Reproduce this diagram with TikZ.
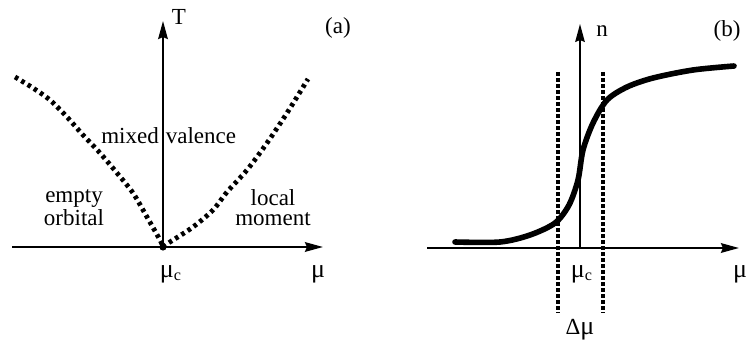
\documentclass[tikz,border=0pt]{standalone}
\usepackage{fontspec}
\setmainfont{Liberation Serif}
\usepackage{tikz}
\usetikzlibrary{arrows.meta,positioning}
\tikzset{
  axis/.style={-{Stealth[length=9pt, width=4.8pt, inset=1pt]}, line width=#1},
  axis/.default=1.1pt,
  phase/.style={line width=2.4pt, dash pattern=on 1.8pt off 1.9pt},
  window/.style={line width=1.6pt, dash pattern=on 2pt off 1pt},
  lbl/.style={font=\fontsize{11.5}{10}\selectfont, inner sep=0pt, anchor=base},
  curve/.style={line width=2.8pt, line cap=round},
}
\newcommand{\mumu}{{\fontsize{13}{14}\selectfont μ}}

\begin{document}
\begin{tikzpicture}[x=0.5pt, y=-0.5pt]
  \useasboundingbox (0,0) rectangle (749,342);
  % (a) phase diagram
  \coordinate (oa) at (163,247);
  \coordinate (xa0) at (12,247);
  \coordinate (xa1) at (323,247);
  \coordinate (ya1) at (163,21);
  \draw[axis] (xa0) -- (xa1);
  \draw[axis] (oa) -- (ya1);
  \draw[phase] plot[smooth] coordinates {(15,77) (33,88) (50,100) (67,117) (83,135) (100,153) (117,173) (133,193) (147,217) (160,240) (oa)};
  \draw[phase] plot[smooth] coordinates {(oa) (170,242) (193,227) (213,210) (227,192) (247,170) (267,143) (287,113) (308,79)};
  \fill (oa) circle (1.8pt);
  \node[lbl] (T) at (179,25) {T};
  \node[lbl] (tagA) at (338,34) {(a)};
  \node[lbl] (mixed) at (130,143) {mixed};
  \node[lbl] (valence) at (201,143) {valence};
  \node[lbl, align=center] (empty) at (74,225) {empty\\orbital};
  \node[lbl, align=center] (local) at (273,225) {local\\moment};
  \node[lbl] (muca) at (171,277) {\mumu\textsubscript{c}};
  \node[lbl] (mua) at (318,277) {\mumu};

  % (b) occupation
  \coordinate (ob) at (580,248);
  \coordinate (xb0) at (427,248);
  \coordinate (xb1) at (739,248);
  \coordinate (yb1) at (580,24);
  \draw[axis=1.1pt] (xb0) -- (xb1);
  \draw[axis=0.7pt] (ob) -- (yb1);
  \draw[window] (558,72) -- (558,313);
  \draw[window] (603,72) -- (603,313);
  \draw[curve] plot[smooth] coordinates {(455,242) (500,242) (530,235) (555,223) (569,205) (578,180) (583,150) (593,123) (607,100) (627,87) (653,78) (693,70) (734,66)};
  \node[lbl] (n) at (602,37) {n};
  \node[lbl] (tagB) at (727,37) {(b)};
  \node[lbl] (mucb) at (582,277) {\mumu\textsubscript{c}};
  \node[lbl] (mub) at (740,277) {\mumu};
  \node[lbl] (dmu) at (580,334) {Δ\mumu};
\end{tikzpicture}
\end{document}
